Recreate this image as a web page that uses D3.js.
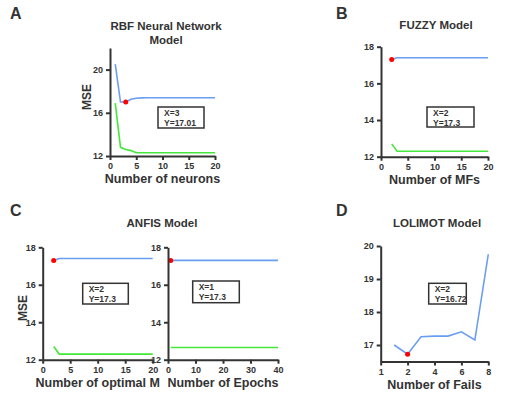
<!DOCTYPE html>
<html>
<head>
<meta charset="utf-8">
<script src="https://cdn.jsdelivr.net/npm/d3@7"></script>
<style>
  body { margin: 0; background: #fff; }
  text { font-family: "Liberation Sans", Arial, sans-serif; font-weight: bold; fill: #333; }
</style>
</head>
<body>
<svg width="515" height="399"></svg>
<script>
// panel A - RBF
const rbfX = d3.range(1, 21);
const rbfTrain = [20.5, 17.0, 17.01, 17.25, 17.35, 17.38, 17.4, 17.4, 17.4, 17.4, 17.4, 17.4, 17.4, 17.4, 17.4, 17.4, 17.4, 17.4, 17.4, 17.4];
const rbfTest = [16.9, 12.8, 12.6, 12.5, 12.3, 12.3, 12.3, 12.3, 12.3, 12.3, 12.3, 12.3, 12.3, 12.3, 12.3, 12.3, 12.3, 12.3, 12.3, 12.3];

// panel B - FUZZY
const fuzzyX = d3.range(2, 21);
const fuzzyTrain = [17.3, 17.4, 17.4, 17.4, 17.4, 17.4, 17.4, 17.4, 17.4, 17.4, 17.4, 17.4, 17.4, 17.4, 17.4, 17.4, 17.4, 17.4, 17.4];
const fuzzyTest = [12.7, 12.3, 12.3, 12.3, 12.3, 12.3, 12.3, 12.3, 12.3, 12.3, 12.3, 12.3, 12.3, 12.3, 12.3, 12.3, 12.3, 12.3, 12.3];

// panel C - ANFIS
const anfisMX = d3.range(2, 21);
const anfisMTrain = [17.3, 17.4, 17.4, 17.4, 17.4, 17.4, 17.4, 17.4, 17.4, 17.4, 17.4, 17.4, 17.4, 17.4, 17.4, 17.4, 17.4, 17.4, 17.4];
const anfisMTest = [12.7, 12.3, 12.3, 12.3, 12.3, 12.3, 12.3, 12.3, 12.3, 12.3, 12.3, 12.3, 12.3, 12.3, 12.3, 12.3, 12.3, 12.3, 12.3];
const anfisEX = [1, 40];
const anfisETrain = [17.3, 17.3];
const anfisETest = [12.65, 12.65];

// panel D - LOLIMOT
const lolX = [1, 2, 3, 4, 5, 6, 7, 8];
const lolTrain = [17.0, 16.72, 17.25, 17.27, 17.27, 17.4, 17.15, 19.75];
const lolTickVals = [0, 2, 4, 6, 8];
const lolTickLabels = ["1", "2", "4", "6", "8"];

const blue = "#6a9ef2", green = "#44e83a", axisCol = "#333";
const svg = d3.select("svg");

function panel(o) {
  const g = svg.append("g");
  const x = d3.scaleLinear().domain(o.xDom).range(o.xRange);
  const y = d3.scaleLinear().domain(o.yDom).range(o.yRange);

  const line = d3.line().x(d => x(d[0])).y(d => y(d[1]));
  o.series.forEach(s => {
    g.append("path")
      .datum(s.xs.map((v, i) => [v, s.ys[i]]))
      .attr("d", line)
      .attr("fill", "none")
      .attr("stroke", s.color)
      .attr("stroke-width", 1.6);
  });

  // minimum point
  g.append("circle")
    .attr("cx", x(o.dot[0]))
    .attr("cy", y(o.dot[1]))
    .attr("r", 2.5)
    .attr("fill", "#f00");

  const xa = d3.axisBottom(x).tickValues(o.xTicks).tickSize(4).tickSizeOuter(0).tickFormat(d3.format("d"));
  if (o.xLabels) xa.tickFormat((d, i) => o.xLabels[i]);
  g.append("g")
    .attr("transform", "translate(0," + o.yRange[0] + ")")
    .call(xa);

  g.append("g")
    .attr("transform", "translate(" + o.xRange[0] + ",0)")
    .call(d3.axisLeft(y).tickValues(o.yTicks).tickSize(4).tickSizeOuter(0).tickFormat(d3.format("d")));

  g.selectAll(".domain, .tick line").attr("stroke", axisCol).attr("stroke-width", 2);
  g.selectAll(".tick text").attr("font-size", 9).attr("fill", axisCol).style("font-weight", "bold");

  // x title
  g.append("text")
    .attr("x", (o.xRange[0] + o.xRange[1]) / 2)
    .attr("y", o.yRange[0] + 27)
    .attr("text-anchor", "middle")
    .attr("font-size", 12.5)
    .text(o.xTitle);

  // annotation box
  g.append("rect")
    .attr("x", o.box[0]).attr("y", o.box[1])
    .attr("width", o.box[2]).attr("height", o.box[3])
    .attr("fill", "#fff").attr("stroke", axisCol).attr("stroke-width", 1.5);
  g.append("text")
    .attr("x", o.box[0] + 6).attr("y", o.box[1] + 9)
    .attr("font-size", 8.5).attr("fill", "#111")
    .text(o.boxText[0]);
  g.append("text")
    .attr("x", o.box[0] + 6).attr("y", o.box[1] + 18.5)
    .attr("font-size", 8.5).attr("fill", "#111")
    .text(o.boxText[1]);
}

function label(txt, x, y, size, anchor, rot) {
  const t = svg.append("text")
    .attr("font-size", size)
    .attr("text-anchor", anchor || "middle")
    .text(txt);
  if (rot) t.attr("transform", "translate(" + x + "," + y + ") rotate(-90)");
  else t.attr("x", x).attr("y", y);
  return t;
}

// A
panel({
  xDom: [0, 20], xRange: [110, 215], yDom: [12, 22], yRange: [156, 48],
  xTicks: [0, 5, 10, 15, 20], yTicks: [12, 16, 20],
  series: [{ xs: rbfX, ys: rbfTrain, color: blue }, { xs: rbfX, ys: rbfTest, color: green }],
  dot: [3, 17.01], xTitle: "Number of neurons",
  box: [158, 107, 46, 21], boxText: ["X=3", "Y=17.01"]
});
label("A", 10, 19, 16, "start");
label("RBF Neural Network", 166, 30, 11.5);
label("Model", 166, 44, 11.5);
label("MSE", 91, 97, 12, "middle", true);

// B
panel({
  xDom: [0, 20], xRange: [381, 488], yDom: [12, 18], yRange: [156.7, 46.7],
  xTicks: [0, 5, 10, 15, 20], yTicks: [12, 14, 16, 18],
  series: [{ xs: fuzzyX, ys: fuzzyTrain, color: blue }, { xs: fuzzyX, ys: fuzzyTest, color: green }],
  dot: [2, 17.3], xTitle: "Number of MFs",
  box: [427, 107, 47, 20], boxText: ["X=2", " Y=17.3"]
});
label("B", 336, 19, 16, "start");
label("FUZZY Model", 436, 29, 11.5);

// C
panel({
  xDom: [0, 20], xRange: [42.7, 152.7], yDom: [12, 18], yRange: [359.7, 247.3],
  xTicks: [0, 5, 10, 15, 20], yTicks: [12, 14, 16, 18],
  series: [{ xs: anfisMX, ys: anfisMTrain, color: blue }, { xs: anfisMX, ys: anfisMTest, color: green }],
  dot: [2, 17.3], xTitle: "Number of optimal M",
  box: [82.7, 283.3, 45.6, 20.7], boxText: ["X=2", "Y=17.3"]
});
panel({
  xDom: [0, 40], xRange: [168, 278], yDom: [12, 18], yRange: [359.7, 247.3],
  xTicks: [0, 10, 20, 30, 40], yTicks: [12, 14, 16, 18],
  series: [{ xs: anfisEX, ys: anfisETrain, color: blue }, { xs: anfisEX, ys: anfisETest, color: green }],
  dot: [1, 17.3], xTitle: "Number of Epochs",
  box: [192.7, 281, 46.6, 21.7], boxText: ["X=1", "Y=17.3"]
});
label("C", 10, 216, 16, "start");
label("ANFIS Model", 162, 227, 11.5);
label("MSE", 27, 308, 12, "middle", true);

// D
panel({
  xDom: [0, 8], xRange: [380.7, 488.3], yDom: [16.5, 20], yRange: [361.5, 246],
  xTicks: lolTickVals, xLabels: lolTickLabels, yTicks: [17, 18, 19, 20],
  series: [{ xs: lolX, ys: lolTrain, color: blue }],
  dot: [2, 16.72], xTitle: "Number of Fails",
  box: [428.7, 283.3, 37.6, 20.7], boxText: ["X=2", " Y=16.72"]
});
label("D", 336, 216, 16, "start");
label("LOLIMOT Model", 437, 227, 11.5);
</script>
</body>
</html>
